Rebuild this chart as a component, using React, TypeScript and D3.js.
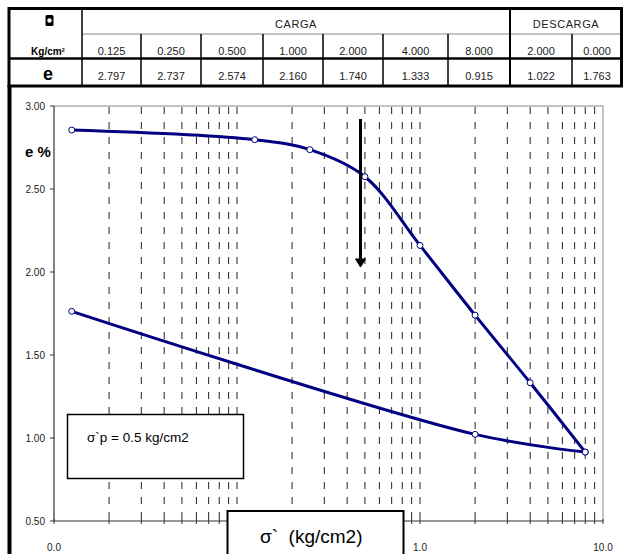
import {useEffect, useRef} from 'react';
import * as d3 from 'd3';

// table contents
const tableStress = ['0.125', '0.250', '0.500', '1.000', '2.000', '4.000', '8.000', '2.000', '0.000'];
const tableE = ['2.797', '2.737', '2.574', '2.160', '1.740', '1.333', '0.915', '1.022', '1.763'];
const colEdges = [82, 141, 201, 263, 323, 383, 448, 510, 572, 622];

// plotted series
const loadStress = [0.0125, 0.125, 0.25, 0.5, 1, 2, 4, 8];
const loadE = [2.855, 2.797, 2.737, 2.574, 2.16, 1.74, 1.333, 0.915];
const unloadStress = [8, 2, 0.0125];
const unloadE = [0.915, 1.022, 1.763];

// axis ticks
const yTicks = [0.5, 1.0, 1.5, 2.0, 2.5, 3.0];
const xLabelTicks = [0.01, 0.1, 1, 10];

// parameters
const width = 626;
const height = 554;
const plot = {left: 54, right: 603, top: 106, bottom: 521};
const font = 'Liberation Sans, Arial, sans-serif';
const navy = '#000080';

export default function App() {
  const ref = useRef(null);
  useEffect(() => {
    if (!ref.current) return;
    const svg = d3.select(ref.current);
    svg.selectAll('*').remove();

    // ---------- table ----------
    const t = svg.append('g');
    const rowY = [9, 34, 58.5, 86];
    // header row 1 labels
    t.append('rect').attr('x', 45.5).attr('y', 15).attr('width', 8).attr('height', 11)
      .attr('rx', 1.5).attr('fill', 'black');
    t.append('circle').attr('cx', 49.5).attr('cy', 20.5).attr('r', 2.2).attr('fill', 'white');
    t.append('text').attr('x', (colEdges[0] + colEdges[7]) / 2).attr('y', 27.5)
      .attr('text-anchor', 'middle').attr('font-size', 11).attr('letter-spacing', 0.6)
      .attr('fill', '#222').text('CARGA');
    t.append('text').attr('x', (colEdges[7] + colEdges[9]) / 2).attr('y', 27.5)
      .attr('text-anchor', 'middle').attr('font-size', 11).attr('letter-spacing', 0.6)
      .attr('fill', '#222').text('DESCARGA');
    t.append('text').attr('x', 48).attr('y', 55).attr('text-anchor', 'middle')
      .attr('font-size', 10).attr('font-weight', 'bold').text('Kg/cm²');
    t.append('text').attr('x', 48).attr('y', 80).attr('text-anchor', 'middle')
      .attr('font-size', 18).attr('font-weight', 'bold').text('e');
    tableStress.forEach((s, i) => {
      const cx = (colEdges[i] + colEdges[i + 1]) / 2;
      t.append('text').attr('x', cx).attr('y', 54.5).attr('text-anchor', 'middle')
        .attr('font-size', 11).attr('fill', '#222').text(s);
      t.append('text').attr('x', cx).attr('y', 79.5).attr('text-anchor', 'middle')
        .attr('font-size', 11).attr('fill', '#222').text(tableE[i]);
    });
    // table lines
    t.append('line').attr('x1', colEdges[0]).attr('x2', colEdges[9]).attr('y1', rowY[1]).attr('y2', rowY[1])
      .attr('stroke', '#888').attr('stroke-width', 1);
    t.append('line').attr('x1', 9).attr('x2', colEdges[9]).attr('y1', rowY[2]).attr('y2', rowY[2])
      .attr('stroke', 'black').attr('stroke-width', 2.5);
    colEdges.slice(1, 9).forEach((x, i) => {
      const thick = i === 6;
      t.append('line').attr('x1', x).attr('x2', x)
        .attr('y1', thick ? rowY[0] : rowY[1]).attr('y2', rowY[3])
        .attr('stroke', 'black').attr('stroke-width', thick ? 2 : 1.5);
    });
    t.append('line').attr('x1', colEdges[0]).attr('x2', colEdges[0]).attr('y1', rowY[0]).attr('y2', rowY[3])
      .attr('stroke', 'black').attr('stroke-width', 1.5);
    t.append('rect').attr('x', 9).attr('y', 8.5).attr('width', 612.5).attr('height', 77.5)
      .attr('fill', 'none').attr('stroke', 'black').attr('stroke-width', 3);
    // frame continuation on the left
    svg.append('line').attr('x1', 9.5).attr('x2', 9.5).attr('y1', 85).attr('y2', height)
      .attr('stroke', 'black').attr('stroke-width', 4);

    // ---------- chart ----------
    const x = d3.scaleLog().domain([0.01, 10]).range([plot.left, plot.right]);
    const y = d3.scaleLinear().domain([0.5, 3]).range([plot.bottom, plot.top]);
    const g = svg.append('g');

    // dashed vertical grid lines at every log tick
    const gridTicks = x.ticks().filter(v => v > 0.0101 && v < 9.99);
    g.selectAll('line.grid').data(gridTicks).enter().append('line')
      .attr('x1', d => x(d)).attr('x2', d => x(d))
      .attr('y1', plot.top + 1).attr('y2', plot.bottom)
      .attr('stroke', '#222').attr('stroke-width', 1).attr('stroke-dasharray', '7,8');

    // plot border (top/right gray)
    g.append('path')
      .attr('d', `M${plot.left},${plot.top}H${plot.right}V${plot.bottom}`)
      .attr('fill', 'none').attr('stroke', '#888').attr('stroke-width', 1);

    // y axis
    g.append('line').attr('x1', plot.left).attr('x2', plot.left).attr('y1', plot.top).attr('y2', plot.bottom)
      .attr('stroke', '#333').attr('stroke-width', 1.2);
    yTicks.forEach(v => {
      g.append('line').attr('x1', plot.left - 4).attr('x2', plot.left).attr('y1', y(v)).attr('y2', y(v))
        .attr('stroke', '#333');
      g.append('text').attr('x', plot.left - 9).attr('y', y(v) + 3.5).attr('text-anchor', 'end')
        .attr('font-size', 10).attr('fill', '#222').text(d3.format('.2f')(v));
    });

    // x axis
    g.append('line').attr('x1', plot.left).attr('x2', plot.right).attr('y1', plot.bottom).attr('y2', plot.bottom)
      .attr('stroke', '#333').attr('stroke-width', 1.2);
    x.ticks().forEach(v => {
      g.append('line').attr('x1', x(v)).attr('x2', x(v)).attr('y1', plot.bottom - 2).attr('y2', plot.bottom + 3)
        .attr('stroke', '#333');
    });
    xLabelTicks.forEach(v => {
      g.append('text').attr('x', x(v)).attr('y', 551).attr('text-anchor', 'middle')
        .attr('font-size', 10).attr('fill', '#222').text(d3.format('.1f')(v));
    });

    // y label
    g.append('text').attr('x', 25).attr('y', 157).attr('font-size', 15).attr('font-weight', 'bold')
      .text('e %');

    // curves
    const line = d3.line<[number, number]>()
      .x(d => x(d[0])).y(d => y(d[1]))
      .curve(d3.curveCatmullRom.alpha(0.5));
    const loadPts = loadStress.map((s, i) => [s, loadE[i]] as [number, number]);
    const unloadPts = unloadStress.map((s, i) => [s, unloadE[i]] as [number, number]);
    [loadPts, unloadPts].forEach(pts => {
      g.append('path').attr('d', line(pts)).attr('fill', 'none')
        .attr('stroke', navy).attr('stroke-width', 3).attr('stroke-linejoin', 'round');
    });
    [...loadPts, ...unloadPts].forEach(p => {
      g.append('circle').attr('cx', x(p[0])).attr('cy', y(p[1])).attr('r', 3)
        .attr('fill', 'white').attr('stroke', navy).attr('stroke-width', 1);
    });

    // arrow at preconsolidation stress
    const ax = 360.5;
    g.append('line').attr('x1', ax).attr('x2', ax).attr('y1', 119).attr('y2', 261)
      .attr('stroke', 'black').attr('stroke-width', 3);
    g.append('path').attr('d', `M${ax - 5},${259}L${ax + 5},${259}L${ax},${267}Z`)
      .attr('fill', 'black').attr('stroke', 'black').attr('stroke-width', 1).attr('stroke-linejoin', 'round');

    // note box
    g.append('rect').attr('x', 67.5).attr('y', 414.5).attr('width', 176).attr('height', 64)
      .attr('fill', 'white').attr('stroke', 'black').attr('stroke-width', 1.5);
    g.append('text').attr('x', 87).attr('y', 442).attr('font-size', 13.5).text('σ`p = 0.5 kg/cm2');

    // x label box
    g.append('rect').attr('x', 227.5).attr('y', 511).attr('width', 176).attr('height', 60)
      .attr('fill', 'white').attr('stroke', 'black').attr('stroke-width', 2);
    g.append('text').attr('x', 260).attr('y', 543).attr('font-size', 19).attr('xml:space', 'preserve')
      .text('σ`  (kg/cm2)');
  }, [ref]);
  return <svg
    ref={ref}
    width={width}
    height={height}
    style={{position: 'absolute', left: 0, top: 0, fontFamily: font, background: 'white'}}
  />;
}
